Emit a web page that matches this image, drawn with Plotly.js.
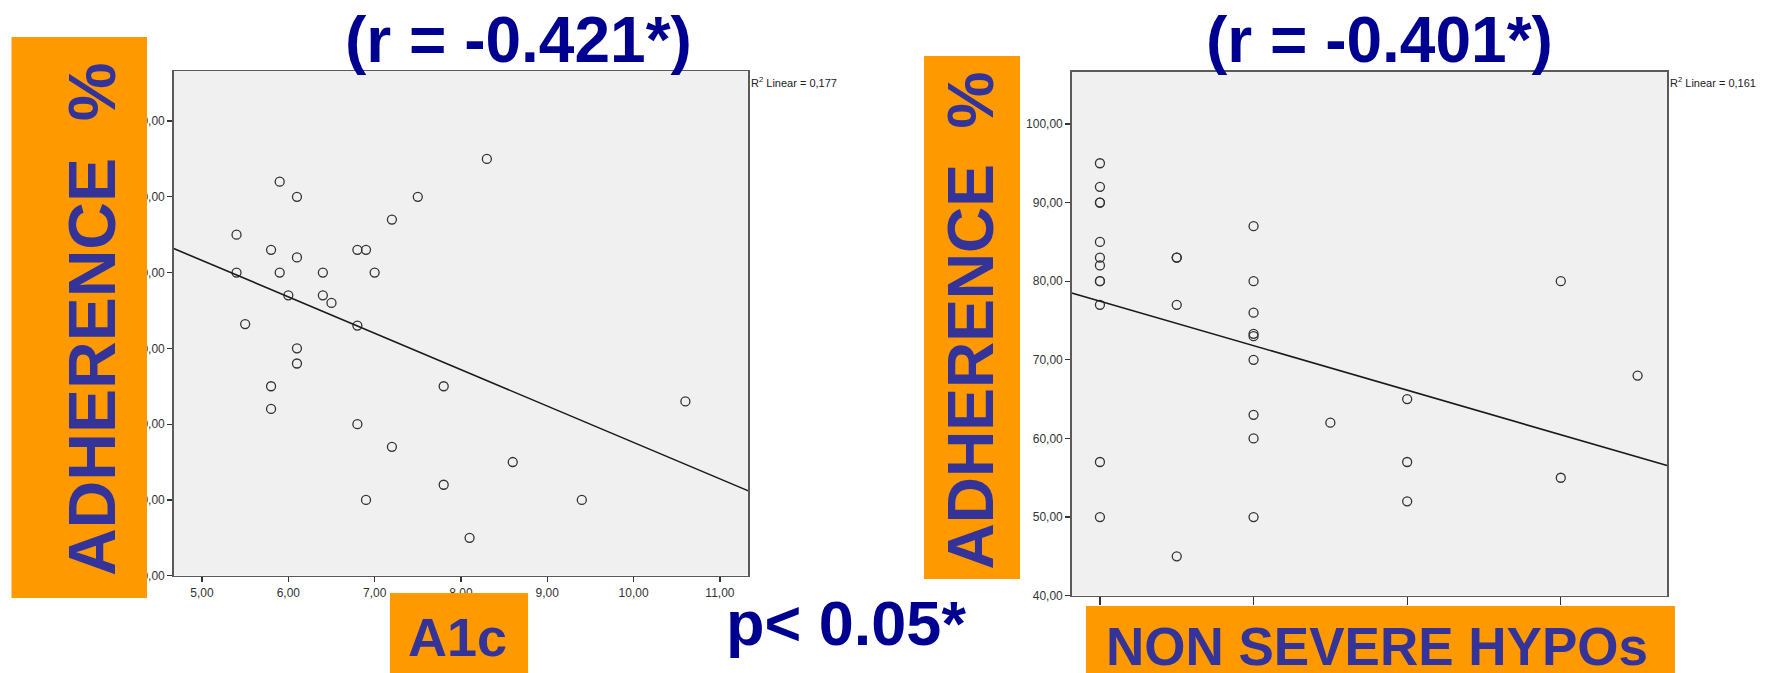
<!DOCTYPE html>
<html><head><meta charset="utf-8">
<script src="https://cdn.plot.ly/plotly-3.0.1.min.js"></script>
<style>html,body{margin:0;padding:0;background:#fff}#chart{width:1787px;height:673px}</style>
</head><body><div id="chart"></div>
<script>
// Left panel: A1c vs adherence %
const a1c = [5.9,6.1,7.5,7.2,5.4,5.8,6.1,6.8,6.9,5.4,5.9,6.4,7.0,6.0,6.4,6.5,5.5,6.8,8.3,6.1,6.1,5.8,5.8,7.8,6.8,7.2,7.8,6.9,10.6,8.6,9.4,8.1];
const adherenceA1c = [92,90,90,87,85,83,82,83,83,80,80,80,80,77,77,76,73.2,73,95,70,68,65,62,65,60,57,52,50,63,55,50,45];
// Right panel: non severe hypos vs adherence %
const hypos = [0,0,0,0,0,0,0,0,0,0,0,0, 0.5,0.5,0.5,0.5, 1,1,1,1,1,1,1,1,1, 1.5, 2,2,2, 3,3, 3.5];
const adherenceHypos = [95,92,90,90,85,83,82,80,80,77,57,50, 83,83,77,45, 87,80,76,73.3,73,70,63,60,50, 62, 65,57,52, 80,55, 68];

const yTickVals = [40,50,60,70,80,90,100];
const yTickText = ['40,00','50,00','60,00','70,00','80,00','90,00','100,00'];
const a1cTickVals = [5,6,7,8,9,10,11];
const a1cTickText = ['5,00','6,00','7,00','8,00','9,00','10,00','11,00'];
const hypoTickVals = [0,1,2,3];

const titleLeft = '(r = -0.421*)';
const titleRight = '(r = -0.401*)';
const r2Left = 'R<sup>2</sup> Linear = 0,177';
const r2Right = 'R<sup>2</sup> Linear = 0,161';
const yLabel = 'ADHERENCE  %';
const xLabelLeft = 'A1c';
const xLabelRight = 'NON SEVERE HYPOs';
const pText = 'p< 0.05*';

const rangeA1c = [4.672, 11.33];
const rangeHypos = [-0.184, 3.692];

function fit(xs, ys) {
  const n = xs.length;
  const mx = xs.reduce((a,b)=>a+b,0)/n, my = ys.reduce((a,b)=>a+b,0)/n;
  let sxy = 0, sxx = 0;
  for (let i=0;i<n;i++){ sxy += (xs[i]-mx)*(ys[i]-my); sxx += (xs[i]-mx)**2; }
  const b = sxy/sxx; const a = my - b*mx;
  return x => a + b*x;
}
const fA = fit(a1c, adherenceA1c);
const fH = fit(hypos, adherenceHypos);

const FONT = 'Liberation Sans, Arial, Helvetica, sans-serif';
const marker = {symbol:'circle-open', size:9, color:'#333', line:{width:1.3}};

const traces = [
  {type:'scatter', mode:'markers', x:a1c, y:adherenceA1c, xaxis:'x', yaxis:'y', marker:marker, hoverinfo:'skip'},
  {type:'scatter', mode:'lines', x:rangeA1c, y:rangeA1c.map(fA), xaxis:'x', yaxis:'y', line:{color:'#1a1a1a', width:1.6}, hoverinfo:'skip'},
  {type:'scatter', mode:'markers', x:hypos, y:adherenceHypos, xaxis:'x2', yaxis:'y2', marker:marker, hoverinfo:'skip'},
  {type:'scatter', mode:'lines', x:rangeHypos, y:rangeHypos.map(fH), xaxis:'x2', yaxis:'y2', line:{color:'#1a1a1a', width:1.6}, hoverinfo:'skip'}
];

const axBase = {showgrid:false, zeroline:false, showline:true, linecolor:'#5a5a5a', linewidth:1.5, mirror:true,
  ticks:'outside', ticklen:5, tickwidth:1.2, tickcolor:'#333', tickfont:{family:FONT, size:12, color:'#333'}, fixedrange:true};

const orange = '#FF9900';
const boxText = '#333399';
const navy = '#000090';

const layout = {
  width:1787, height:673, margin:{l:0,r:0,t:0,b:0},
  paper_bgcolor:'#ffffff', plot_bgcolor:'#F0F0F0', showlegend:false,
  xaxis: Object.assign({}, axBase, {domain:[0.0972,0.4188], range:rangeA1c, tickvals:a1cTickVals, ticktext:a1cTickText, anchor:'y'}),
  yaxis: Object.assign({}, axBase, {domain:[0.1446,0.8945], range:[40,106.6], tickvals:yTickVals, ticktext:yTickText, anchor:'x'}),
  xaxis2: Object.assign({}, axBase, {domain:[0.5997,0.9329], range:rangeHypos, tickvals:hypoTickVals, showticklabels:false, ticklen:8, anchor:'y2'}),
  yaxis2: Object.assign({}, axBase, {domain:[0.1149,0.8935], range:[40,106.65], tickvals:yTickVals, ticktext:yTickText, anchor:'x2'}),
  shapes: [
    {type:'rect', xref:'paper', yref:'paper', x0:0.00644, x1:0.08226, y0:0.1114, y1:0.945, fillcolor:orange, line:{width:0}, layer:'above'},
    {type:'rect', xref:'paper', yref:'paper', x0:0.2182, x1:0.2955, y0:0, y1:0.1189, fillcolor:orange, line:{width:0}, layer:'above'},
    {type:'rect', xref:'paper', yref:'paper', x0:0.5171, x1:0.5708, y0:0.1397, y1:0.9168, fillcolor:orange, line:{width:0}, layer:'above'},
    {type:'rect', xref:'paper', yref:'paper', x0:0.6077, x1:0.9373, y0:0, y1:0.0996, fillcolor:orange, line:{width:0}, layer:'above'}
  ],
  annotations: [
    {xref:'paper', yref:'paper', x:0.2899, y:0.941, xanchor:'center', yanchor:'middle', text:titleLeft, showarrow:false,
      font:{family:FONT, size:64, color:navy, weight:'bold'}},
    {xref:'paper', yref:'paper', x:0.7717, y:0.941, xanchor:'center', yanchor:'middle', text:titleRight, showarrow:false,
      font:{family:FONT, size:64, color:navy, weight:'bold'}},
    {xref:'paper', yref:'paper', x:0.4191, y:0.878, xanchor:'left', yanchor:'middle', text:r2Left, showarrow:false,
      font:{family:FONT, size:11, color:'#222'}},
    {xref:'paper', yref:'paper', x:0.9334, y:0.878, xanchor:'left', yanchor:'middle', text:r2Right, showarrow:false,
      font:{family:FONT, size:11, color:'#222'}},
    {xref:'paper', yref:'paper', x:0.0515, y:0.5245, xanchor:'center', yanchor:'middle', text:yLabel, textangle:-90, showarrow:false,
      font:{family:FONT, size:66, color:boxText, weight:'bold'}},
    {xref:'paper', yref:'paper', x:0.5436, y:0.5245, xanchor:'center', yanchor:'middle', text:yLabel, textangle:-90, showarrow:false,
      font:{family:FONT, size:64, color:boxText, weight:'bold'}},
    {xref:'paper', yref:'paper', x:0.256, y:0.054, xanchor:'center', yanchor:'middle', text:xLabelLeft, showarrow:false,
      font:{family:FONT, size:54, color:boxText, weight:'bold'}},
    {xref:'paper', yref:'paper', x:0.7708, y:0.039, xanchor:'center', yanchor:'middle', text:xLabelRight, showarrow:false,
      font:{family:FONT, size:53, color:boxText, weight:'bold'}},
    {xref:'paper', yref:'paper', x:0.4734, y:0.075, xanchor:'center', yanchor:'middle', text:pText, showarrow:false,
      font:{family:FONT, size:63, color:navy, weight:'bold'}}
  ]
};

Plotly.newPlot('chart', traces, layout, {displayModeBar:false, staticPlot:true});
</script>
</body></html>
